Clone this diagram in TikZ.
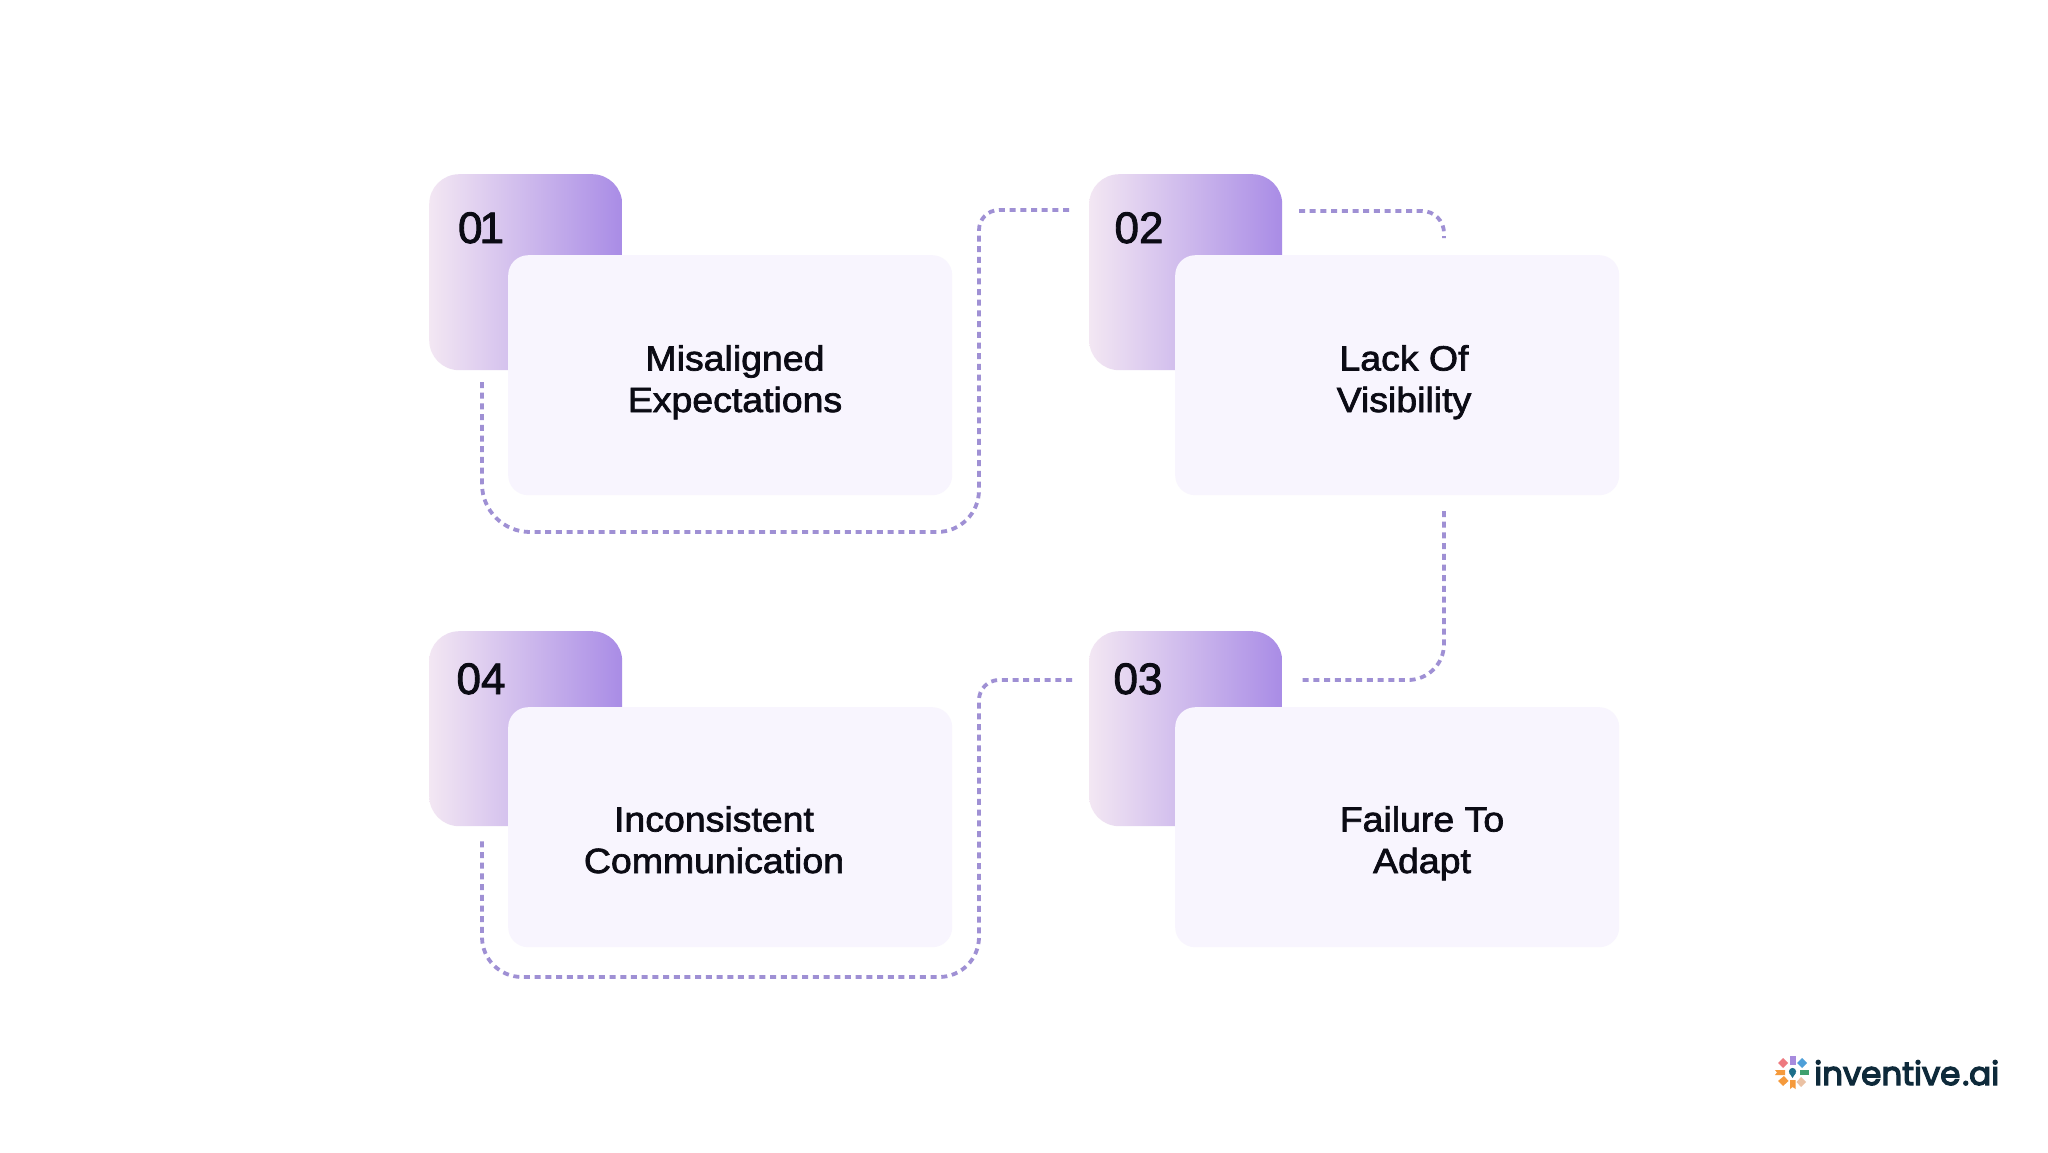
\documentclass[tikz,border=0pt]{standalone}
\usepackage{fontspec}
\setmainfont[FakeBold=2,FakeStretch=1.07]{Liberation Sans}
\newfontfamily\numfont[FakeBold=2]{Liberation Sans}
\newfontfamily\logofont[FakeBold=4]{Poppins}
\definecolor{cardfill}{HTML}{F8F5FE}
\definecolor{gradL}{HTML}{F3E7F3}
\definecolor{gradR}{HTML}{A98CE6}
\definecolor{linec}{HTML}{9F90D4}
\definecolor{inkc}{HTML}{0B0B14}
\definecolor{logoc}{HTML}{0E2A3A}
\definecolor{pRed}{HTML}{EE7A80}
\definecolor{pPurple}{HTML}{A78BDE}
\definecolor{pBlue}{HTML}{4E9FD8}
\definecolor{pOrange}{HTML}{F59A3C}
\definecolor{pGreen}{HTML}{3FA06E}
\definecolor{pPeach}{HTML}{EBC2A4}
\definecolor{pTeal}{HTML}{1C6E8A}
\tikzset{x=1pt,y=-1pt,
 tabbox/.style={minimum width=193pt,minimum height=196pt,rounded corners=30pt,left color=gradL,right color=gradR,shading angle=90,inner sep=0pt,anchor=north west,draw=none},
 cardbox/.style={minimum width=444pt,minimum height=240pt,rounded corners=20pt,fill=cardfill,inner sep=0pt,anchor=north west,draw=none},
 numtxt/.style={font=\numfont\fontsize{44}{44}\selectfont,text=inkc,inner sep=0pt,anchor=base},
 cardtxt/.style={font=\fontsize{35}{41.5}\selectfont,text=inkc,align=center,inner sep=0pt,anchor=base},
 link/.style={draw=linec,line width=3.8pt,dash pattern=on 6pt off 4.7pt}
}
\begin{document}
\begin{tikzpicture}
\useasboundingbox (0,0) rectangle (2048,1152);
\fill[white] (0,0) rectangle (2048,1152);
\coordinate (a1) at (482,382);\coordinate (a2) at (482,532);\coordinate (a3) at (979,532);\coordinate (a4) at (979,210);\coordinate (a5) at (1072,210);
\coordinate (b1) at (1299,211);\coordinate (b2) at (1444,211);\coordinate (b3) at (1444,238);
\coordinate (c1) at (1444,511);\coordinate (c2) at (1444,680);\coordinate (c3) at (1301,680);
\coordinate (d1) at (1072,680);\coordinate (d2) at (979,680);\coordinate (d3) at (979,977);\coordinate (d4) at (482,977);\coordinate (d5) at (482,839);
\draw[link] (a1) [rounded corners=48pt] -- (a2) [rounded corners=42pt] -- (a3) [rounded corners=20pt] -- (a4) -- (a5);
\draw[link] (b1) [rounded corners=22pt] -- (b2) -- (b3);
\draw[link] (c1) [rounded corners=36pt] -- (c2) -- (c3);
\draw[link] (d1) [rounded corners=20pt] -- (d2) [rounded corners=40pt] -- (d3) -- (d4) -- (d5);
\node[tabbox] (t1) at (429,174) {};
\node[tabbox] (t2) at (1089,174) {};
\node[tabbox,minimum height=195pt] (t3) at (1089,631) {};
\node[tabbox,minimum height=195pt] (t4) at (429,631) {};
\node[cardbox] (k1) at (508,255) {};
\node[cardbox] (k2) at (1175,255) {};
\node[cardbox] (k3) at (1175,707) {};
\node[cardbox] (k4) at (508,707) {};
\node[numtxt] (n1) at (481,243) {0\kern-3pt 1};
\node[numtxt] (n2) at (1139,243) {02};
\node[numtxt] (n3) at (1138,694) {03};
\node[numtxt] (n4) at (481,694) {04};
\node[cardtxt] (l1) at (735,412) {Misaligned\\Expectations};
\node[cardtxt] (l2) at (1404,412) {Lack Of\\Visibility};
\node[cardtxt] (l3) at (1422,873) {Failure To\\Adapt};
\node[cardtxt] (l4) at (714,873) {Inconsistent\\Communication};
\fill[pPurple] (1790,1056) rectangle (1795.5,1065);
\fill[pRed] (1783,1058) -- (1788,1063) -- (1783,1068) -- (1778,1063) -- cycle;
\fill[pBlue] (1802,1058) -- (1807,1063) -- (1802,1068) -- (1797,1063) -- cycle;
\fill[pOrange] (1775,1070) -- (1785,1070) -- (1785,1075) -- (1775,1075) -- (1777,1072.5) -- cycle;
\fill[pGreen] (1800,1070) rectangle (1809,1075);
\fill[pOrange] (1784,1076) -- (1788.5,1081) -- (1783,1086) -- (1778,1081) -- cycle;
\fill[pOrange] (1790,1080) -- (1795.5,1080) -- (1795.5,1089) -- (1792.7,1087) -- (1790,1089) -- cycle;
\fill[pPeach] (1801,1077) -- (1806,1082) -- (1801,1087) -- (1796.5,1082) -- cycle;
\fill[pTeal] (1792.5,1071.5) circle (3.6pt);
\fill[pTeal] (1789.3,1073) -- (1792.5,1078) -- (1795.7,1073) -- cycle;
\node[inner sep=0pt,anchor=base west,text=logoc,font=\logofont\fontsize{32.5}{33}\selectfont] (logo) at (1814,1085) {inventive\kern2pt.ai};
\end{tikzpicture}
\end{document}
